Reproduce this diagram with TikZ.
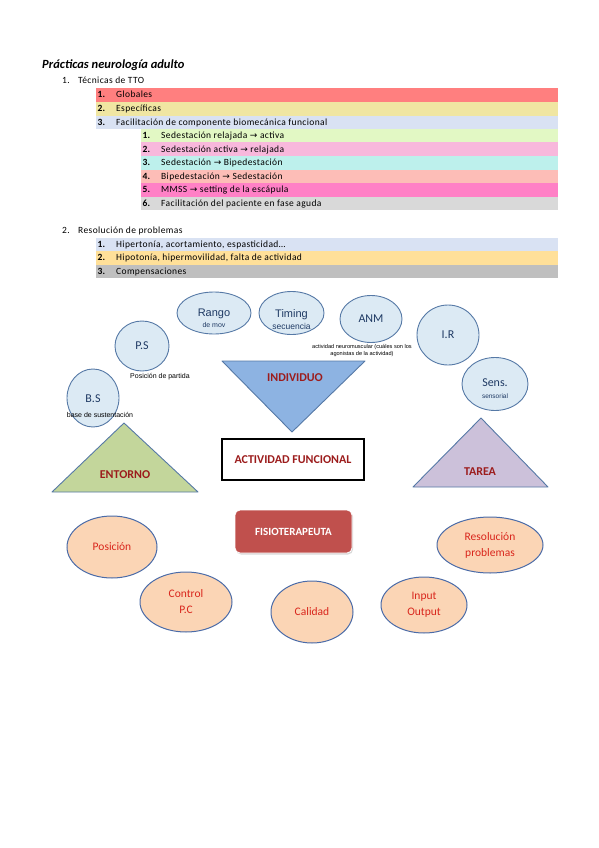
\documentclass[tikz,border=0pt]{standalone}
\usepackage{fontspec}
\setmainfont{Carlito}
\newfontfamily\listf[LetterSpace=4]{Carlito}
\newfontfamily\arialf{Liberation Sans}
\newfontfamily\symf{DejaVu Sans}
\usepackage{tikz}
\usetikzlibrary{shapes.geometric,shadows}

\definecolor{bandA}{HTML}{FF7F7F}
\definecolor{bandB}{HTML}{F0E6A2}
\definecolor{bandC}{HTML}{D9E2F3}
\definecolor{subA}{HTML}{E2F8C4}
\definecolor{subB}{HTML}{F8B8DC}
\definecolor{subC}{HTML}{BDF0EC}
\definecolor{subD}{HTML}{FDBDB7}
\definecolor{subE}{HTML}{FF80C6}
\definecolor{subF}{HTML}{D9D9D9}
\definecolor{bandD}{HTML}{FFE099}
\definecolor{bandE}{HTML}{BFBFBF}
\definecolor{bubblefill}{HTML}{DCEAF4}
\definecolor{bubbleline}{HTML}{5679A6}
\definecolor{bubbletext}{HTML}{1F3A64}
\definecolor{peachfill}{HTML}{FBD5B5}
\definecolor{peachline}{HTML}{4A6BA8}
\definecolor{peachtext}{HTML}{D9261C}
\definecolor{darkred}{HTML}{9C1C1C}
\definecolor{entornofill}{HTML}{C3D69B}
\definecolor{individuofill}{HTML}{8DB3E2}
\definecolor{tareafill}{HTML}{CCC1DA}
\definecolor{fisiofill}{HTML}{C0504D}

\newcommand\toarr{{\symf\fontsize{9}{9}\selectfont →}}

\tikzset{
  num/.style={anchor=mid west, inner sep=0pt, font=\fontsize{9.5}{11}\selectfont\bfseries},
  item/.style={anchor=mid west, inner sep=0pt, font=\listf\fontsize{9.5}{11}\selectfont},
  bubble/.style={ellipse, draw=bubbleline, fill=bubblefill, line width=0.9pt, inner sep=0pt},
  bubbletxt/.style={text=bubbletext, inner sep=0pt, font=\fontsize{12}{14}\selectfont},
  smalltxt/.style={inner sep=0pt, font=\arialf\fontsize{7}{8}\selectfont},
  peach/.style={ellipse, draw=peachline, fill=peachfill, line width=1pt, inner sep=0pt,
    text=peachtext, align=center, font=\fontsize{11.5}{16}\selectfont},
  tri/.style={draw=bubbleline, line width=0.9pt, line join=round},
  tritxt/.style={text=darkred, inner sep=0pt, font=\fontsize{12}{14}\selectfont\bfseries}
}

\begin{document}
\begin{tikzpicture}[x=1pt,y=-1pt]
\useasboundingbox (0,0) rectangle (599,848);

% heading
\node[anchor=mid west, inner sep=0pt, font=\fontsize{12.5}{14}\selectfont\bfseries\itshape] (title) at (42,66) {Prácticas neurología adulto};
\node[item] (h1n) at (62,81) {1.};
\node[item] (h1t) at (78,81) {Técnicas de TTO};

% first list
\foreach \ya/\yb/\col/\num/\txt [count=\i] in {
  88.3/101.7/bandA/1./Globales,
  101.7/115.7/bandB/2./Específicas,
  115.7/129/bandC/3./Facilitación de componente biomecánica funcional}{
  \fill[\col] (96,\ya) rectangle (558,\yb);
  \node[num] (an\i) at (97.5,{(\ya+\yb)/2+0.5}) {\num};
  \node[item] (at\i) at (116,{(\ya+\yb)/2+0.5}) {\txt};
}
\foreach \ya/\yb/\col/\num/\txt [count=\i] in {
  129/142.3/subA/1./{Sedestación relajada \toarr\ activa},
  142.3/156/subB/2./{Sedestación activa \toarr\ relajada},
  156/170/subC/3./{Sedestación \toarr\ Bipedestación},
  170/183/subD/4./{Bipedestación \toarr\ Sedestación},
  183/196.7/subE/5./{MMSS \toarr\ setting de la escápula},
  196.7/210/subF/6./{Facilitación del paciente en fase aguda}}{
  \fill[\col] (141,\ya) rectangle (558,\yb);
  \node[num] (bn\i) at (142.5,{(\ya+\yb)/2+0.5}) {\num};
  \node[item] (bt\i) at (161,{(\ya+\yb)/2+0.5}) {\txt};
}

% second list
\node[item] (h2n) at (62,231) {2.};
\node[item] (h2t) at (78,231) {Resolución de problemas};
\foreach \ya/\yb/\col/\num/\txt [count=\i] in {
  237.7/251/bandC/1./{Hipertonía, acortamiento, espasticidad…},
  251/265/bandD/2./{Hipotonía, hipermovilidad, falta de actividad},
  265/278.3/bandE/3./Compensaciones}{
  \fill[\col] (96,\ya) rectangle (558,\yb);
  \node[num] (cn\i) at (97.5,{(\ya+\yb)/2+0.5}) {\num};
  \node[item] (ct\i) at (116,{(\ya+\yb)/2+0.5}) {\txt};
}

% triangles
\draw[tri, fill=entornofill] (124,423) -- (52,492) -- (198,492) -- cycle;
\node[tritxt] (entorno) at (125,475) {ENTORNO};
\draw[tri, fill=individuofill] (222,361) -- (365,361) -- (292,432) -- cycle;
\node[tritxt] (individuo) at (295,378) {INDIVIDUO};
\draw[tri, fill=tareafill] (481,418) -- (413,487) -- (548,487) -- cycle;
\node[tritxt] (tarea) at (480,472) {TAREA};

% bubbles
\node[bubble, minimum width=74pt, minimum height=42pt] (rango) at (214,313) {};
\node[bubbletxt, font=\arialf\fontsize{11}{12}\selectfont] (rangot) at (214,314) {Rango};
\node[smalltxt, text=bubbletext] (rangos) at (214,324.5) {de mov};
\node[bubble, minimum width=65pt, minimum height=43pt] (timing) at (291.5,313) {};
\node[bubbletxt, font=\arialf\fontsize{11}{12}\selectfont] (timingt) at (291.5,314.5) {Timing};
\node[smalltxt, text=bubbletext, font=\arialf\fontsize{8.5}{9}\selectfont] (timings) at (291.5,326.5) {secuencia};
\node[bubble, minimum width=62pt, minimum height=47pt] (anm) at (371,319) {};
\node[bubbletxt] (anmt) at (371,319) {ANM};
\node[smalltxt, font=\arialf\fontsize{5.6}{7}\selectfont, align=center] (anms) at (362,351)
  {actividad neuromuscular (cuáles son los\\agonistas de la actividad)};
\node[bubble, minimum width=54pt, minimum height=50pt] (ps) at (142,346) {};
\node[bubbletxt] (pst) at (142,346) {P.S};
\node[smalltxt] (pss) at (160,377) {Posición de partida};
\node[bubble, minimum width=52pt, minimum height=58pt] (bs) at (93,398) {};
\node[bubbletxt] (bst) at (93,399) {B.S};
\node[smalltxt] (bss) at (100,414.5) {base de sustentación};
\node[bubble, minimum width=62pt, minimum height=60pt] (ir) at (448,335) {};
\node[bubbletxt] (irt) at (448,335) {I.R};
\node[bubble, minimum width=66pt, minimum height=53pt] (sens) at (495,384) {};
\node[bubbletxt] (senst) at (495,383) {Sens.};
\node[smalltxt, text=bubbletext, font=\arialf\fontsize{6.5}{7}\selectfont] (senss) at (495,396) {sensorial};

% boxes
\node[draw=black, line width=1.2pt, fill=white, minimum width=142pt, minimum height=41pt,
  text=darkred, font=\fontsize{12}{14}\selectfont\bfseries] (actividad) at (293,459.5) {ACTIVIDAD FUNCIONAL};
\node[draw=white, line width=0.8pt, fill=fisiofill, rounded corners=5pt, minimum width=117pt, minimum height=43pt,
  drop shadow={opacity=0.3, shadow xshift=1pt, shadow yshift=-1.5pt},
  text=white, font=\fontsize{11}{13}\selectfont\bfseries] (fisio) at (293.5,531.5) {FISIOTERAPEUTA};

% peach ellipses
\node[peach, minimum width=90pt, minimum height=62pt] (posicion) at (112,547) {Posición};
\node[peach, minimum width=92pt, minimum height=60pt] (control) at (186,602) {Control\\P.C};
\node[peach, minimum width=82pt, minimum height=62pt] (calidad) at (312,612) {Calidad};
\node[peach, minimum width=86pt, minimum height=56pt] (inout) at (424,605) {Input\\Output};
\node[peach, minimum width=106pt, minimum height=56pt] (resol) at (490,545) {Resolución\\problemas};
\end{tikzpicture}
\end{document}
